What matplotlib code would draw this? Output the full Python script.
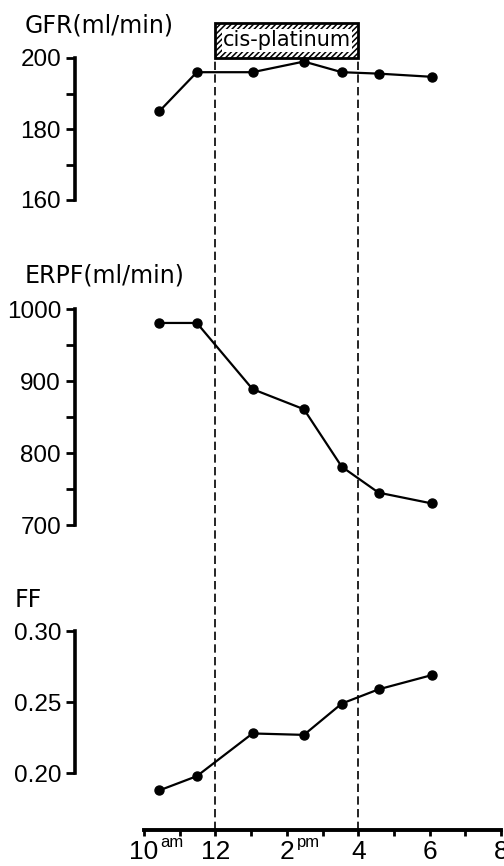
import matplotlib
matplotlib.use('Agg')
import matplotlib.pyplot as plt
from matplotlib.patches import Rectangle
import matplotlib.transforms as mtransforms

plt.rcParams['font.family'] = ['Liberation Sans', 'DejaVu Sans']
plt.rcParams['hatch.linewidth'] = 1.1

# ---------------- data ----------------
times = [10.43, 11.48, 13.04, 14.48, 15.54, 16.57, 18.06]   # clock hours
gfr = [185, 196, 196, 199, 196, 195.6, 194.7]
erpf = [981, 981, 889, 861, 781, 745, 730]
ff = [0.188, 0.198, 0.228, 0.227, 0.249, 0.259, 0.269]
infusion_start, infusion_end = 12, 16
gfr_ticks = [160, 180, 200]
gfr_minor = [170, 190]
erpf_ticks = [700, 800, 900, 1000]
erpf_minor = [750, 850, 950]
ff_ticks = [0.20, 0.25, 0.30]
ff_labels = ['0.20', '0.25', '0.30']
hour_ticks = [10, 12, 14, 16, 18, 20]
hour_minor = [11, 13, 15, 17, 19]
hour_labels = ['10', '12', '2', '4', '6', '8']

# ---------------- layout ----------------
W, H = 504, 866
fig = plt.figure(figsize=(W / 100, H / 100), dpi=100)
LEFT, X0, PPH = 75, 144, 35.7
xlim = (10 - (X0 - LEFT) / PPH, 10 + (W - X0) / PPH)


def axes_px(top, bottom):
    return fig.add_axes([LEFT / W, 1 - bottom / H, (W - LEFT) / W, (bottom - top) / H])


# overlay for infusion box and dashed lines
ov = axes_px(23, 830)
ov.set_xlim(*xlim)
ov.set_ylim(0, 1)
ov.axis('off')
box_bottom = (830 - 58) / (830 - 23)
trans = mtransforms.blended_transform_factory(ov.transData, ov.transAxes)
ov.add_patch(Rectangle((infusion_start, box_bottom), infusion_end - infusion_start,
                       1 - box_bottom, transform=trans, facecolor='white',
                       edgecolor='black', hatch='//////', linewidth=2.0, clip_on=False))
ov.text((infusion_start + infusion_end) / 2, (830 - 40.5) / (830 - 23), 'cis-platinum',
        transform=trans, ha='center', va='center', fontsize=15,
        family=['DejaVu Sans'],
        bbox=dict(facecolor='white', edgecolor='none', pad=0.8))
ov.vlines([infusion_start, infusion_end], 0, box_bottom, colors='black',
          linewidth=1.2, linestyles=(0, (5, 2.6)))


def style_panel(ax, ylim, ticks, minor, labels=None):
    ax.set_xlim(*xlim)
    ax.set_ylim(*ylim)
    ax.patch.set_alpha(0)
    for s in ['top', 'right', 'bottom']:
        ax.spines[s].set_visible(False)
    ax.spines['left'].set_linewidth(2.6)
    ax.spines['left'].set_bounds(ticks[0], ticks[-1])
    ax.set_yticks(ticks)
    if labels is not None:
        ax.set_yticklabels(labels)
    ax.set_yticks(minor, minor=True)
    ax.tick_params(axis='y', which='both', direction='out', length=6.5, width=2.0,
                   labelsize=17.5, pad=3.5)
    ax.set_xticks([])


lkw = dict(color='black', linewidth=1.6, marker='o', markersize=6.5, clip_on=False)

ax1 = axes_px(58, 200)
style_panel(ax1, (160, 200), gfr_ticks, gfr_minor)
ax1.plot(times, gfr, **lkw)

ax2 = axes_px(309.3, 525)
style_panel(ax2, (700, 1000), erpf_ticks, erpf_minor)
ax2.plot(times, erpf, **lkw)

ff_low = 0.20 - (830 - 773.3) / (773.3 - 631) * 0.10
ax3 = axes_px(631, 830)
style_panel(ax3, (ff_low, 0.30), ff_ticks, [], ff_labels)
ax3.plot(times, ff, **lkw)
ax3.spines['bottom'].set_visible(True)
ax3.spines['bottom'].set_linewidth(2.8)
ax3.spines['bottom'].set_bounds(hour_ticks[0], hour_ticks[-1])
ax3.set_xticks(hour_ticks)
ax3.set_xticklabels(hour_labels)
ax3.set_xticks(hour_minor, minor=True)
ax3.tick_params(axis='x', which='both', direction='out', length=4, width=2.0,
                labelsize=19, pad=3.5)
ax3.annotate('am', xy=(10, 0), xycoords=('data', 'axes fraction'),
             xytext=(11.5, -12.5), textcoords='offset points', ha='left',
             va='baseline', fontsize=12)
ax3.annotate('pm', xy=(14, 0), xycoords=('data', 'axes fraction'),
             xytext=(7, -12.5), textcoords='offset points', ha='left',
             va='baseline', fontsize=12)

lab = dict(fontsize=17, family=['DejaVu Sans'], va='baseline', ha='left')
fig.text(25 / W, 1 - 32 / H, 'GFR(ml/min)', **lab)
fig.text(25 / W, 1 - 283 / H, 'ERPF(ml/min)', **lab)
fig.text(15 / W, 1 - 607 / H, 'FF', **lab)

fig.savefig('out.png', dpi=100)
